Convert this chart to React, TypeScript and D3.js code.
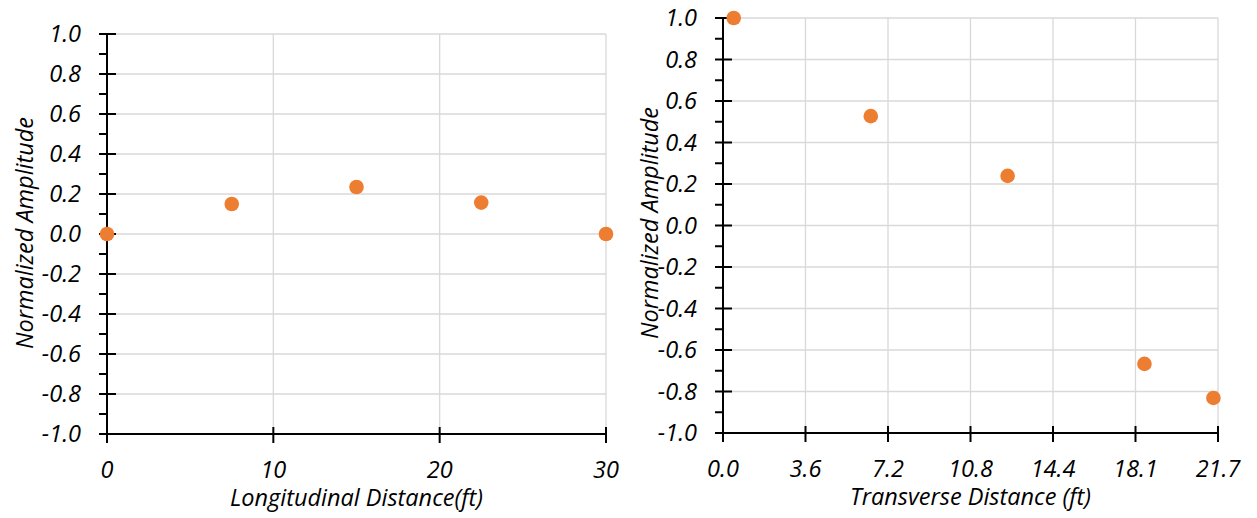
import React from "react";
import * as d3 from "d3";

const yTickValues = [-1.0, -0.8, -0.6, -0.4, -0.2, 0.0, 0.2, 0.4, 0.6, 0.8, 1.0];
const yMinorValues = [-0.9, -0.7, -0.5, -0.3, -0.1, 0.1, 0.3, 0.5, 0.7, 0.9];

const longX = [0, 7.5, 15, 22.5, 30];
const longY = [0.0, 0.15, 0.235, 0.157, 0.0];
const longTicks = [0, 10, 20, 30];
const longTickLabels = ["0", "10", "20", "30"];

const transX = [0.47, 6.47, 12.46, 18.45, 21.47];
const transY = [1.0, 0.527, 0.239, -0.667, -0.831];
const transMax = 21.67;
const transTicks = [0, 1, 2, 3, 4, 5, 6].map((i) => (i * transMax) / 6);
const transTickLabels = ["0.0", "3.6", "7.2", "10.8", "14.4", "18.1", "21.7"];

const FONT = "'Open Sans', sans-serif";
const FS = 23.5;
const ORANGE = "#ED7D31";
const GRID = "#d9d9d9";

type PanelProps = {
  left: number;
  right: number;
  top: number;
  bottom: number;
  xDomain: [number, number];
  xTicks: number[];
  xLabels: string[];
  xs: number[];
  ys: number[];
  xTitle: string;
  yTitleX: number;
  yTitleY: number;
  yLabelX: number;
};

function Panel(p: PanelProps) {
  const x = d3.scaleLinear().domain(p.xDomain).range([p.left, p.right]);
  const y = d3.scaleLinear().domain([-1, 1]).range([p.bottom, p.top]);
  const cx = (p.left + p.right) / 2;
  return (
    <g>
      {yTickValues.map((v) => (
        <line key={"hg" + v} x1={p.left} x2={p.right} y1={y(v)} y2={y(v)} stroke={GRID} strokeWidth={1.3} />
      ))}
      {p.xTicks.map((v, i) => (
        <line key={"vg" + i} x1={x(v)} x2={x(v)} y1={p.top} y2={p.bottom} stroke={GRID} strokeWidth={1.3} />
      ))}
      <line x1={p.left} x2={p.left} y1={p.top - 1} y2={p.bottom + 9} stroke="#000" strokeWidth={2} />
      {yTickValues.map((v) => (
        <line key={"yt" + v} x1={p.left - 8} x2={p.left + 9} y1={y(v)} y2={y(v)} stroke="#000" strokeWidth={2} />
      ))}
      {yMinorValues.map((v) => (
        <line key={"ym" + v} x1={p.left - 8} x2={p.left} y1={y(v)} y2={y(v)} stroke="#000" strokeWidth={2} />
      ))}
      {yTickValues.map((v) => (
        <text key={"yl" + v} x={p.yLabelX} y={y(v)} dy="0.35em" textAnchor="end" fontFamily={FONT} fontStyle="italic" fontSize={FS} fill="#000">
          {d3.format(".1f")(v).replace("−", "-")}
        </text>
      ))}
      <line x1={p.left} x2={p.right} y1={p.bottom} y2={p.bottom} stroke="#000" strokeWidth={2} />
      {p.xTicks.map((v, i) => (
        <line key={"xt" + i} x1={x(v)} x2={x(v)} y1={p.bottom - 7} y2={p.bottom + 9} stroke="#000" strokeWidth={2} />
      ))}
      {p.xTicks.map((v, i) => (
        <text key={"xl" + i} x={x(v)} y={p.bottom + 36} dy="0.35em" textAnchor="middle" fontFamily={FONT} fontStyle="italic" fontSize={FS} fill="#000">
          {p.xLabels[i]}
        </text>
      ))}
      <text x={cx} y={p.bottom + 64} dy="0.35em" textAnchor="middle" fontFamily={FONT} fontStyle="italic" fontSize={FS} fill="#000">
        {p.xTitle}
      </text>
      <text transform={`translate(${p.yTitleX},${p.yTitleY}) rotate(-90)`} dy="0.35em" textAnchor="middle" fontFamily={FONT} fontStyle="italic" fontSize={FS} fill="#000">
        Normalized Amplitude
      </text>
      {p.xs.map((v, i) => (
        <circle key={"pt" + i} cx={x(v)} cy={y(p.ys[i])} r={7.3} fill={ORANGE} />
      ))}
    </g>
  );
}

export default function App() {
  return (
    <svg width={1257} height={518} style={{ display: "block", position: "absolute", left: 0, top: 0 }}>
      <rect x={0} y={0} width={1257} height={518} fill="#fff" />
      <Panel
        left={107}
        right={606}
        top={34}
        bottom={434}
        xDomain={[0, 30]}
        xTicks={longTicks}
        xLabels={longTickLabels}
        xs={longX}
        ys={longY}
        xTitle="Longitudinal Distance(ft)"
        yTitleX={25}
        yTitleY={233}
        yLabelX={81}
      />
      <Panel
        left={723}
        right={1218}
        top={18}
        bottom={433}
        xDomain={[0, transMax]}
        xTicks={transTicks}
        xLabels={transTickLabels}
        xs={transX}
        ys={transY}
        xTitle="Transverse Distance (ft)"
        yTitleX={650}
        yTitleY={223}
        yLabelX={697}
      />
    </svg>
  );
}
